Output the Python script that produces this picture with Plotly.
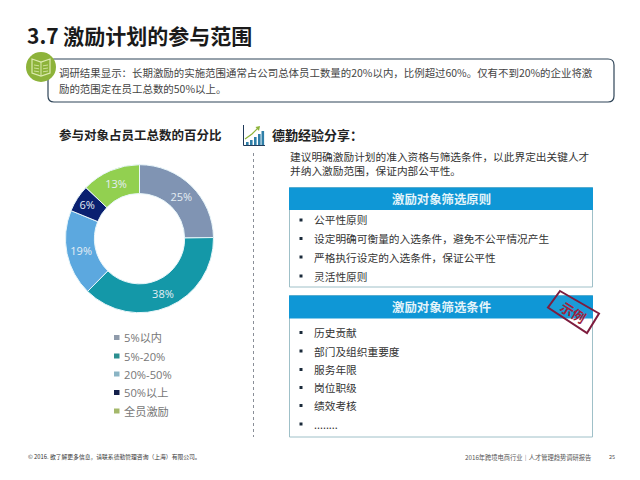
import plotly.graph_objects as go

# ---- data ----
categories = ["5%以内", "5%-20%", "20%-50%", "50%以上", "全员激励"]
values = [25, 38, 19, 6, 13]
slice_colors = ["#8094B3", "#1498A8", "#5CA8DF", "#0A2070", "#92D050"]
legend_colors = ["#8F9BAB", "#2B8F90", "#8AB4C4", "#14204A", "#A4B86A"]
title = "3.7 激励计划的参与范围"
intro_lines = ["调研结果显示：长期激励的实施范围通常占公司总体员工数量的20%以内，比例超过60%。仅有不到20%的企业将激",
               "励的范围定在员工总数的50%以上。"]
chart_title = "参与对象占员工总数的百分比"
share_title = "德勤经验分享："
share_lines = ["建议明确激励计划的准入资格与筛选条件，以此界定出关键人才", "并纳入激励范围，保证内部公平性。"]
box1_title = "激励对象筛选原则"
box1_items = ["公平性原则", "设定明确可衡量的入选条件，避免不公平情况产生", "严格执行设定的入选条件，保证公平性", "灵活性原则"]
box2_title = "激励对象筛选条件"
box2_items = ["历史贡献", "部门及组织重要度", "服务年限", "岗位职级", "绩效考核", "........"]
stamp_text = "示例"
footer_left = "© 2016. 欲了解更多信息，请联系德勤管理咨询（上海）有限公司。"
footer_right = "2016年跨境电商行业｜人才管理趋势调研报告"
page_no = "25"

W, H = 640, 480
CJK = "Noto Sans CJK SC"
def X(x): return x / W
def Y(y): return 1 - y / H

shapes, annos = [], []
def rect(x0, y0, x1, y1, fill=None, line=None, lw=1):
    shapes.append(dict(type="rect", xref="paper", yref="paper", x0=X(x0), x1=X(x1), y0=Y(y0), y1=Y(y1),
                       fillcolor=fill or "rgba(0,0,0,0)", line=dict(color=line or "rgba(0,0,0,0)", width=lw if line else 0)))
def path(points, fill=None, line=None, lw=1, close=True):
    d = "M" + " L".join(f"{X(a):.5f},{Y(b):.5f}" for a, b in points) + (" Z" if close else "")
    shapes.append(dict(type="path", xref="paper", yref="paper", path=d, fillcolor=fill or "rgba(0,0,0,0)",
                       line=dict(color=line or "rgba(0,0,0,0)", width=lw if line else 0)))
def text(x, y, s, size, color="#333333", bold=False, anchor="left", font=CJK, angle=0):
    annos.append(dict(xref="paper", yref="paper", x=X(x), y=Y(y), text=f"<b>{s}</b>" if bold else s, showarrow=False,
                      xanchor=anchor, yanchor="middle", textangle=angle, align=anchor,
                      font=dict(family=font, size=size, color=color)))

# title
text(25, 35, title, 21, "#1A1A1A", True)

# intro box (rounded)
r = 6
x0, x1, y0, y1 = 48, 614, 59, 102
d = (f"M{X(x0+r)},{Y(y0)} L{X(x1-r)},{Y(y0)} Q{X(x1)},{Y(y0)} {X(x1)},{Y(y0+r)} L{X(x1)},{Y(y1-r)} "
     f"Q{X(x1)},{Y(y1)} {X(x1-r)},{Y(y1)} L{X(x0+r)},{Y(y1)} Q{X(x0)},{Y(y1)} {X(x0)},{Y(y1-r)} "
     f"L{X(x0)},{Y(y0+r)} Q{X(x0)},{Y(y0)} {X(x0+r)},{Y(y0)} Z")
shapes.append(dict(type="path", xref="paper", yref="paper", path=d, fillcolor="white", line=dict(color="#2F4558", width=1.2)))
for y, s in zip([72, 88], intro_lines):
    text(57, y, s, 10.45, "#444444")

# book icon
shapes.append(dict(type="circle", xref="paper", yref="paper", x0=X(26), x1=X(56), y0=Y(52), y1=Y(82),
                   fillcolor="#8DB33A", line=dict(width=0)))
path([(32, 59), (41, 62), (50, 59), (50, 73), (41, 76), (32, 73)], None, "#DDEBB0", 1.2)
path([(41, 62), (41, 76)], None, "#DDEBB0", 1, False)
for yy in (65, 68, 71):
    path([(34, yy), (39, yy + 0.8)], None, "#DDEBB0", 0.8, False)
    path([(43, yy + 0.8), (48, yy)], None, "#DDEBB0", 0.8, False)

# section headers
text(57, 134, chart_title, 12.5, "#222222", True)
text(270, 134, share_title, 13, "#222222", True)

# chart icon
path([(243.5, 125), (243.5, 145.5), (265, 145.5)], None, "#1F3A5A", 1, False)
for bx, top in zip([246, 250, 254, 258, 261.5], [142, 140, 137, 134, 131]):
    rect(bx, top, bx + 2.6, 145, "#2F7FA8")
path([(245, 139), (252, 134), (258, 128)], None, "#8DB33A", 1.2, False)
path([(255.5, 127), (260, 126), (259, 131)], "#8DB33A")

# dotted divider
shapes.append(dict(type="line", xref="paper", yref="paper", x0=X(253.5), x1=X(253.5), y0=Y(153), y1=Y(437),
                   line=dict(color="#8A8F98", width=1, dash="dot")))

text(288, 163.5, "<br>".join(share_lines), 10.7, "#333333")

# boxes
def box(top, header_bottom, bottom, ttl, items, ys):
    rect(289.5, top, 592.5, bottom, "white", "#9FC0C8", 1)
    rect(289, top, 593, header_bottom, "#0F97D6")
    text(441, (top + header_bottom) / 2, ttl, 12.4, "#E4F4FA", True, "center")
    for y, s in zip(ys, items):
        rect(299.5, y - 1.5, 302.5, y + 1.5, "#1A2A3A")
        text(312, y, s, 10.7, "#333333")
box(187.5, 210, 287, box1_title, box1_items, [220, 238.5, 257, 276])
box(295.5, 318.5, 437, box2_title, box2_items, [332.5, 351, 369.5, 387.5, 405.5, 424])

# stamp
path([(560, 291), (599, 313.5), (587, 333), (548, 307.5)], "rgba(255,255,255,0.05)", "#7E1C3E", 2)
text(573.5, 312, stamp_text, 13.5, "#A01F3C", True, "center", angle=32)

# legend
for y, c, s in zip([337.5, 356, 374, 392.5, 411], legend_colors, categories):
    rect(114, y - 2.5, 119.5, y + 2.5, c)
    text(122, y, s, 11.2, "#777777", font="Open Sans, Noto Sans CJK SC")

# footer
text(26, 456, footer_left, 5.8, "#333333")
text(463, 457, footer_right, 6.25, "#555555")
text(607, 457, page_no, 5.6, "#555555")

cx, cy, R = 139.5, 238.7, 74
fig = go.Figure(go.Pie(
    labels=categories, values=values, hole=0.61, sort=False, direction="clockwise", rotation=0,
    marker=dict(colors=slice_colors, line=dict(color="#E8F6FA", width=1)),
    texttemplate="%{value}%", textposition="inside", insidetextorientation="horizontal",
    textfont=dict(family="Open Sans", size=11, color="#E4EEF4"), showlegend=False, hoverinfo="label+value",
    domain=dict(x=[X(cx - R), X(cx + R)], y=[Y(cy + R), Y(cy - R)]),
))
fig.update_layout(width=W, height=H, margin=dict(l=0, r=0, t=0, b=0), paper_bgcolor="white", plot_bgcolor="white",
                  showlegend=False, shapes=shapes, annotations=annos, font=dict(family=CJK))
fig.write_html("out.html", post_script="document.body.style.margin='0';", config=dict(displayModeBar=False))
